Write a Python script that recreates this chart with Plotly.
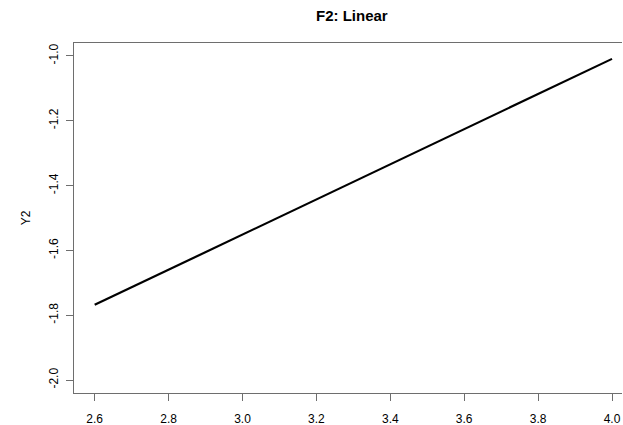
import plotly.graph_objects as go

# Fitted linear term for F2
x_vals = [2.6, 4.0]
y_vals = [-1.768, -1.009]

x_ticks = [2.6, 2.8, 3.0, 3.2, 3.4, 3.6, 3.8, 4.0]
y_ticks = [-2.0, -1.8, -1.6, -1.4, -1.2, -1.0]

axis_col = "#6e6e6e"
font = dict(family="Liberation Sans, Arial, sans-serif", size=12, color="#000000")

fig = go.Figure()
fig.add_trace(go.Scatter(
    x=x_vals, y=y_vals, mode="lines",
    line=dict(color="#000000", width=2.2),
    showlegend=False, hoverinfo="skip",
))

L, R, T, B, W, H = 74, 1, 43, 32, 623, 425
fig.update_layout(
    width=W, height=H, autosize=False,
    margin=dict(l=L, r=R, t=T, b=B),
    paper_bgcolor="white", plot_bgcolor="white",
    font=font,
    annotations=[dict(
        text="<b>F2: Linear</b>",
        x=(352 - L) / (W - L - R), y=1 + (T - 16) / (H - T - B),
        xref="paper", yref="paper", xanchor="center", yanchor="middle",
        showarrow=False, font=dict(size=15, family=font["family"]),
    )],
)

fig.update_xaxes(
    range=[2.544, 4.027], tickvals=x_ticks, ticktext=[f"{v:.1f}" for v in x_ticks],
    showgrid=False, zeroline=False, automargin=False,
    showline=True, mirror=True, linecolor=axis_col, linewidth=1,
    ticks="outside", ticklen=7, tickcolor=axis_col, tickwidth=1,
    tickfont=dict(size=12), ticklabelstandoff=8,
)
fig.update_yaxes(
    range=[-2.04, -0.96], tickvals=y_ticks, ticktext=[f"{v:.1f}" for v in y_ticks],
    showgrid=False, zeroline=False, automargin=False,
    showline=True, mirror=False, linecolor=axis_col, linewidth=1,
    ticks="outside", ticklen=7, tickcolor=axis_col, tickwidth=1,
    tickangle=-90, tickfont=dict(size=12), ticklabelstandoff=3,
    title=dict(text="Y2", font=dict(size=12), standoff=14),
)

fig.write_html("out.html")
